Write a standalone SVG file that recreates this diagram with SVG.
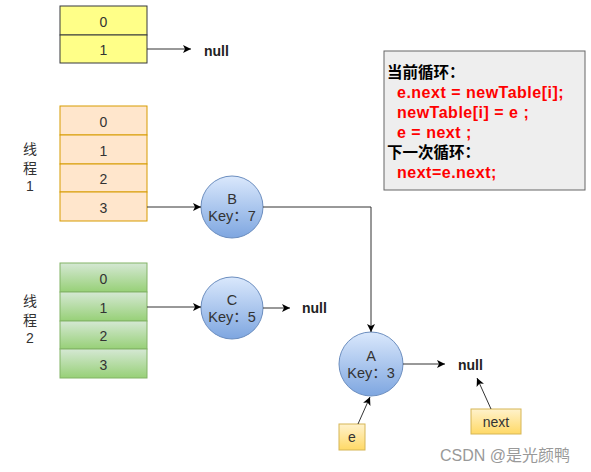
<svg xmlns="http://www.w3.org/2000/svg" width="591" height="472" viewBox="0 0 591 472">
<defs>
<linearGradient id="gGreen" x1="0" y1="0" x2="0" y2="1"><stop offset="0" stop-color="#d5e8d4"/><stop offset="1" stop-color="#97d077"/></linearGradient>
<linearGradient id="gBlue" x1="0" y1="0" x2="0" y2="1"><stop offset="0" stop-color="#dae8fc"/><stop offset="1" stop-color="#7ea6e0"/></linearGradient>
<linearGradient id="gYel" x1="0" y1="0" x2="0" y2="1"><stop offset="0" stop-color="#fff2cc"/><stop offset="1" stop-color="#ffd966"/></linearGradient>
<marker id="arr" markerWidth="10" markerHeight="10" refX="9" refY="5" orient="auto" markerUnits="userSpaceOnUse"><path d="M1,1 L9,5 L1,9 L3,5 Z" fill="#000"/></marker>
<style>
text{font-family:"Liberation Sans",Arial,"Noto Sans CJK SC",sans-serif;font-size:14px;fill:#333}
.c{text-anchor:middle}
.ye{fill:#ffff88;stroke:#36393d}
.or{fill:#ffe6cc;stroke:#d79b00}
.gr{fill:url(#gGreen);stroke:#82b366}
.nd{fill:url(#gBlue);stroke:#6c8ebf}
.bx{fill:url(#gYel);stroke:#d6b656}
.ln{fill:none;stroke:#333;stroke-width:1;marker-end:url(#arr)}
.nl{font-weight:bold;font-size:14px;fill:#222}
.nt{font-size:14.5px}
.b{font-weight:bold;font-size:15.5px;fill:#000}
.r{font-weight:bold;font-size:16px;letter-spacing:0.5px;fill:#ff0000}
</style>
</defs>
<g id="table-top">
<rect class="ye" x="60" y="6" width="87" height="29"/><text class="c" x="103.5" y="26.5">0</text>
<rect class="ye" x="60" y="35" width="87" height="28"/><text class="c" x="103.5" y="55">1</text>
</g>
<g id="table-thread1">
<rect class="or" x="60" y="106" width="87" height="29"/><text class="c" x="103.5" y="126.5">0</text>
<rect class="or" x="60" y="135" width="87" height="29"/><text class="c" x="103.5" y="155.5">1</text>
<rect class="or" x="60" y="164" width="87" height="28"/><text class="c" x="103.5" y="184">2</text>
<rect class="or" x="60" y="192" width="87" height="29"/><text class="c" x="103.5" y="212.5">3</text>
</g>
<g id="table-thread2">
<rect class="gr" x="60" y="263" width="87" height="29"/><text class="c" x="103.5" y="283.5">0</text>
<rect class="gr" x="60" y="292" width="87" height="29"/><text class="c" x="103.5" y="312.5">1</text>
<rect class="gr" x="60" y="321" width="87" height="28"/><text class="c" x="103.5" y="341">2</text>
<rect class="gr" x="60" y="349" width="87" height="29"/><text class="c" x="103.5" y="369.5">3</text>
</g>
<g id="label-thread1"><text class="c" x="30" y="154">线</text><text class="c" x="30" y="173">程</text><text class="c" x="30" y="191">1</text></g>
<g id="label-thread2"><text class="c" x="30" y="306">线</text><text class="c" x="30" y="325">程</text><text class="c" x="30" y="343">2</text></g>
<g id="node-B"><circle class="nd" cx="232" cy="207" r="31"/><text class="c nt" x="232" y="204">B</text><text class="c nt" x="232" y="221">Key：7</text></g>
<g id="node-C"><circle class="nd" cx="232" cy="308" r="31"/><text class="c nt" x="232" y="305">C</text><text class="c nt" x="232" y="322">Key：5</text></g>
<g id="node-A"><circle class="nd" cx="371" cy="364" r="32"/><text class="c nt" x="371" y="361">A</text><text class="c nt" x="371" y="378">Key：3</text></g>
<g id="null-1"><text class="nl" x="204" y="56">null</text></g>
<g id="null-2"><text class="nl" x="302" y="313">null</text></g>
<g id="null-3"><text class="nl" x="458" y="370">null</text></g>
<g id="box-e"><rect class="bx" x="339" y="424" width="26" height="26"/><text class="c" x="352" y="442">e</text></g>
<g id="box-next"><rect class="bx" x="471" y="409" width="50" height="25"/><text class="c" x="496" y="426.5">next</text></g>
<g id="info">
<rect x="384" y="51" width="201" height="139" fill="#eeeeee" stroke="#666"/>
<text class="b" x="387" y="78">当前循环：</text>
<text class="r" x="397" y="98">e.next = newTable[i];</text>
<text class="r" x="397" y="118">newTable[i] = e ;</text>
<text class="r" x="397" y="138">e = next ;</text>
<text class="b" x="387" y="158">下一次循环：</text>
<text class="r" x="397" y="178">next=e.next;</text>
</g>
<g id="connectors">
<path class="ln" d="M147,49 L191,49"/>
<path class="ln" d="M147,207 L201,207"/>
<path class="ln" d="M147,307 L201,307"/>
<path class="ln" d="M263,308 L290,308"/>
<path class="ln" d="M263,207 L371,207 L371,332"/>
<path class="ln" d="M403,364 L445,364"/>
<path class="ln" d="M358,424 L370,397"/>
<path class="ln" d="M491,409 L477,378"/>
</g>
<text x="440" y="461" style="font-size:16px;fill:#999">CSDN @是光颜鸭</text>
</svg>
